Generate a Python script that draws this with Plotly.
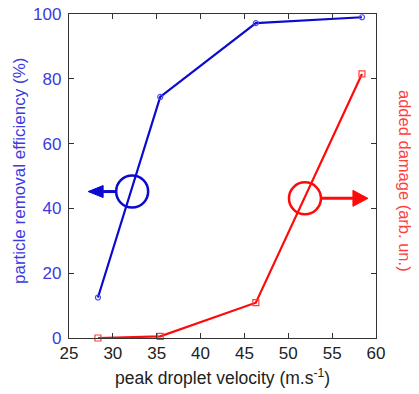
import plotly.graph_objects as go

velocity = [28.3, 35.4, 46.3, 58.4]
removal_eff = [12.5, 74.4, 97.2, 99.0]
added_damage = [0.0, 0.5, 10.9, 81.5]

x_ticks = [25, 30, 35, 40, 45, 50, 55, 60]
y_ticks = [0, 20, 40, 60, 80, 100]

BLUE = "#0a0ad0"
BLUE_TXT = "#3a3ae0"
RED = "#ff0a0a"
RED_TXT = "#ff4040"
FONT = "Liberation Sans, Arial, sans-serif"

fig = go.Figure()
fig.add_trace(go.Scatter(
    x=velocity, y=removal_eff, mode="lines+markers",
    line=dict(color=BLUE, width=2.2),
    marker=dict(symbol="circle-open", size=5, color="#4a4ae8", line=dict(width=1.2)),
    showlegend=False, cliponaxis=False))
fig.add_trace(go.Scatter(
    x=velocity, y=added_damage, mode="lines+markers",
    line=dict(color=RED, width=2.2),
    marker=dict(symbol="square-open", size=6, color="#ff4040", line=dict(width=1.2)),
    showlegend=False, cliponaxis=False))


def circle_arrow(cx, cy, color, direction, head_half):
    fig.add_shape(type="circle", xref="x", yref="y", xsizemode="pixel", ysizemode="pixel",
                  xanchor=cx, yanchor=cy, x0=-16, x1=16, y0=-16, y1=16,
                  line=dict(color=color, width=2.5))
    if direction < 0:
        tail, base, tip = -16, -29, -44
    else:
        tail, base, tip = 16, 48, 63
    fig.add_shape(type="line", xref="x", yref="y", xsizemode="pixel", ysizemode="pixel",
                  xanchor=cx, yanchor=cy, x0=tail, x1=base, y0=0, y1=0,
                  line=dict(color=color, width=3))
    fig.add_shape(type="path", xref="x", yref="y", xsizemode="pixel", ysizemode="pixel",
                  xanchor=cx, yanchor=cy,
                  path=f"M {base} {-head_half} L {tip} 0 L {base} {head_half} Z",
                  fillcolor=color, line=dict(color=color, width=1))


circle_arrow(32.2, 45.2, BLUE, -1, 6)
circle_arrow(51.9, 43.1, RED, 1, 8)

# axis titles as annotations
fig.add_annotation(x=0, y=0.5, xref="paper", yref="paper", xanchor="center", yanchor="middle",
                   xshift=-50, yshift=5, text="particle removal efficiency (%)", textangle=-90,
                   showarrow=False, font=dict(family=FONT, size=17, color=BLUE_TXT))
fig.add_annotation(x=1, y=0.5, xref="paper", yref="paper", xanchor="center", yanchor="middle",
                   xshift=29, yshift=-5, text="added damage (arb. un.)", textangle=90, showarrow=False,
                   font=dict(family=FONT, size=16.5, color=RED_TXT))
fig.add_annotation(x=0.5, y=0, xref="paper", yref="paper", xanchor="center", yanchor="middle",
                   yshift=-39, text="peak droplet velocity (m.s<sup>-1</sup>)", showarrow=False,
                   font=dict(family=FONT, size=17.5, color="#222"))

fig.update_xaxes(range=[25, 60], tickvals=x_ticks, ticks="inside", ticklen=5, tickcolor="#333",
                 showline=True, linecolor="#333", linewidth=1.3, mirror="allticks",
                 showgrid=False, zeroline=False, automargin=False, ticklabelstandoff=-1,
                 ticklabeloverflow="allow",
                 tickfont=dict(family=FONT, size=17, color="#222"))
fig.update_yaxes(range=[0, 100], tickvals=y_ticks, ticks="inside", ticklen=5, tickcolor="#333",
                 showline=True, linecolor="#333", linewidth=1.3, mirror="allticks",
                 showgrid=False, zeroline=False, automargin=False, ticklabelstandoff=3,
                 ticklabeloverflow="allow",
                 tickfont=dict(family=FONT, size=17, color=BLUE_TXT))

fig.update_layout(width=419, height=394, margin=dict(l=61, r=51, t=6, b=64),
                  plot_bgcolor="white", paper_bgcolor="white", font=dict(family=FONT))

fig.write_html("out.html")
